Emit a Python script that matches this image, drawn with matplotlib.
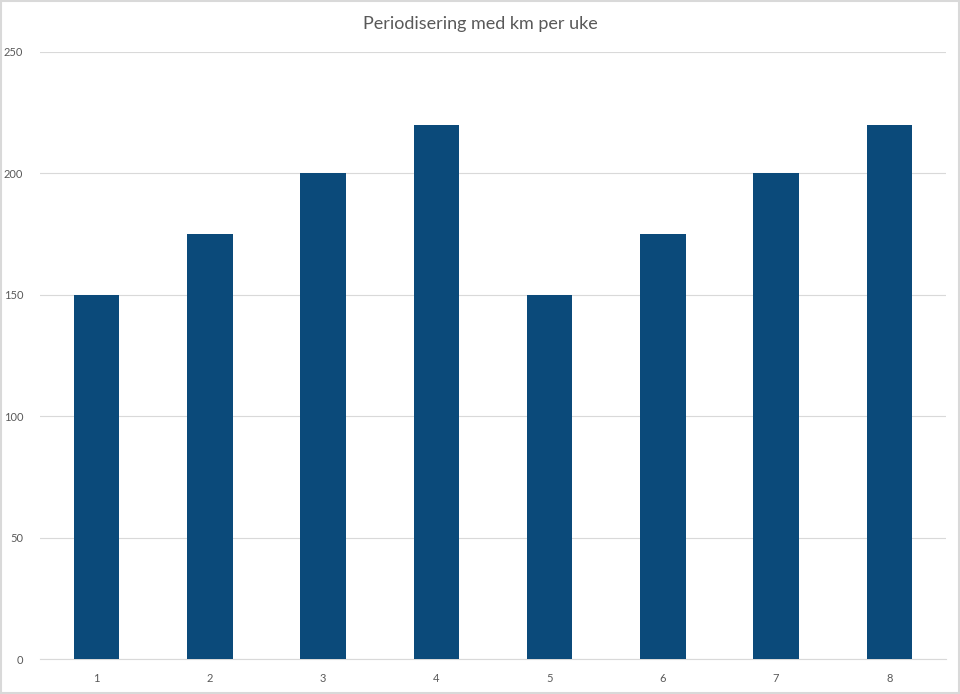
import matplotlib
matplotlib.use("Agg")
import matplotlib.pyplot as plt
from matplotlib.patches import Rectangle

plt.rcParams['font.family'] = ['Lato', 'DejaVu Sans']

# data
weeks = ['1', '2', '3', '4', '5', '6', '7', '8']
km = [150, 175, 200, 220, 150, 175, 200, 220]
yticks = [0, 50, 100, 150, 200, 250]

fig = plt.figure(figsize=(9.6, 6.94), dpi=100)
ax = fig.add_axes([0.0417, 0.0504, 0.9437, 0.8747])

x = range(len(weeks))
ax.bar(x, km, width=0.4, color='#0B4A7A', zorder=3)

ax.set_xlim(-0.5, len(weeks) - 0.5)
ax.set_ylim(0, 250)
ax.set_xticks(list(x))
ax.set_xticklabels(weeks)
ax.set_yticks(yticks)
ax.tick_params(axis='both', length=0, labelsize=8, colors='#595959')
ax.tick_params(axis='y', pad=12)
ax.tick_params(axis='x', pad=10)
ax.grid(axis='y', color='#D9D9D9', linewidth=0.8, zorder=0)
for s in ['top', 'right', 'left']:
    ax.spines[s].set_visible(False)
ax.spines['bottom'].set_color('#D9D9D9')
ax.spines['bottom'].set_linewidth(0.8)

fig.text(0.5, 0.966, 'Periodisering med km per uke', ha='center', va='center',
         fontsize=13, color='#595959')

# light border round the chart
fig.patches.append(Rectangle((0.001, 0.001), 0.998, 0.997, transform=fig.transFigure,
                             fill=False, edgecolor='#D9D9D9', linewidth=1.5))

fig.savefig('out.png', dpi=100)
